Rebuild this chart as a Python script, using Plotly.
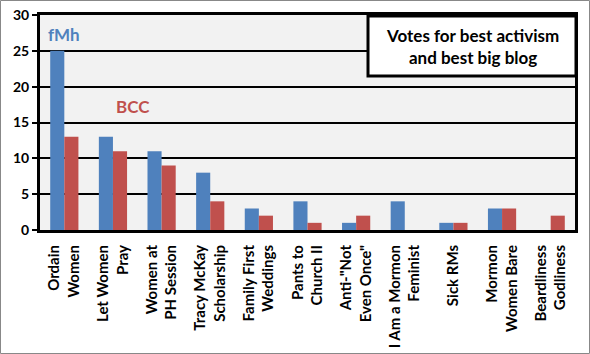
import plotly.graph_objects as go

categories = ["Ordain<br>Women", "Let Women<br>Pray", "Women at<br>PH Session", "Tracy McKay<br>Scholarship",
              "Family First<br>Weddings", "Pants to<br>Church II", "Anti-\"Not<br>Even Once\"",
              "I Am a Mormon<br>Feminist", "Sick RMs", "Mormon<br>Women Bare", "Beardliness<br>Godliness"]
fmh = [25, 13, 11, 8, 3, 4, 1, 4, 1, 3, 0]
bcc = [13, 11, 9, 4, 2, 1, 2, 0, 1, 3, 2]
y_ticks = [0, 5, 10, 15, 20, 25, 30]

BLUE = "#4F81BD"
RED = "#C0504D"
FONT = "Lato"

x = list(range(len(categories)))
fig = go.Figure()
fig.add_trace(go.Bar(x=x, y=fmh, name="fMh", marker=dict(color=BLUE, line=dict(width=0))))
fig.add_trace(go.Bar(x=x, y=bcc, name="BCC", marker=dict(color=RED, line=dict(width=0))))

L, R, T, B = 40, 15, 15, 124
W, H = 590, 354
pw, ph = W - L - R, H - T - B

fig.update_layout(
    width=W, height=H,
    margin=dict(l=L, r=R, t=T, b=B),
    paper_bgcolor="white",
    plot_bgcolor="#F2F2F2",
    barmode="group",
    bargap=0.42,
    bargroupgap=0,
    showlegend=False,
    font=dict(family=FONT, color="black"),
    xaxis=dict(
        tickmode="array", tickvals=x, ticktext=["<b>%s</b>" % c for c in categories],
        tickangle=-90, tickfont=dict(size=15, family=FONT, color="black"),
        ticklabelstandoff=6, automargin=False,
        range=[-0.5, len(categories) - 0.5],
        showline=True, linecolor="black", linewidth=3, mirror=True,
        showgrid=False, ticks="", zeroline=False,
    ),
    yaxis=dict(
        range=[0, 30], tickvals=y_ticks, ticktext=["<b>%d</b>" % v for v in y_ticks],
        tickfont=dict(size=14, family=FONT, color="black"),
        automargin=False,
        showline=True, linecolor="black", linewidth=3, mirror=True,
        showgrid=True, gridcolor="black", gridwidth=2,
        ticks="outside", ticklen=5, tickwidth=2, tickcolor="black",
        zeroline=False,
    ),
)

fig.add_annotation(x=0, y=27.3, xref="x", yref="y", text="<b>fMh</b>", showarrow=False,
                   xanchor="center", yanchor="middle",
                   font=dict(size=17, family=FONT, color=BLUE))
fig.add_annotation(x=1.41, y=17.2, xref="x", yref="y", text="<b>BCC</b>", showarrow=False,
                   xanchor="center", yanchor="middle",
                   font=dict(size=17, family=FONT, color=RED))

# title box
bx0, bx1, by0, by1 = 368, 576, 16, 76
fig.add_shape(type="rect", xref="paper", yref="paper",
              x0=(bx0 - L) / pw, x1=(bx1 - L) / pw,
              y0=1 - (by1 - T) / ph, y1=1 - (by0 - T) / ph,
              fillcolor="white", line=dict(color="black", width=3), layer="above")
fig.add_annotation(x=((bx0 + bx1) / 2 - L) / pw, y=1 - ((by0 + by1) / 2 - T) / ph,
                   xref="paper", yref="paper", showarrow=False,
                   xanchor="center", yanchor="middle",
                   text="<b>Votes for best activism<br>and best big blog</b>",
                   font=dict(size=17, family=FONT, color="black"))

# outer border
fig.add_shape(type="rect", xref="paper", yref="paper",
              x0=(-L + 0.5) / pw, x1=(W - L - 0.5) / pw,
              y0=(-B + 0.5) / ph, y1=(H - B - 0.5) / ph,
              line=dict(color="#888888", width=1))

fig.write_html("out.html")
